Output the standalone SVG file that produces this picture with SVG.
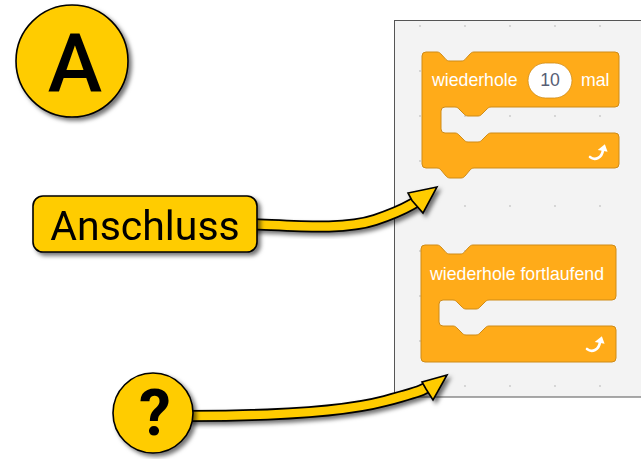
<svg xmlns="http://www.w3.org/2000/svg" width="641" height="459" viewBox="0 0 641 459">
<defs>
<filter id="sh" x="-20%" y="-20%" width="150%" height="150%">
<feDropShadow dx="3" dy="3" stdDeviation="2" flood-color="#000" flood-opacity="0.55"/>
</filter>
<pattern id="dots" x="0" y="0" width="45" height="45" patternUnits="userSpaceOnUse">
<circle cx="15" cy="26" r="0.9" fill="#c8c8c8"/>
</pattern>
</defs>
<style>
.blk{fill:#FFAB19;stroke:#CF8B17;stroke-width:1}
.bt{font-family:"Liberation Sans",Arial,sans-serif;font-size:17.7px;fill:#fff}
.yel{fill:#FFCC00;stroke:#000;stroke-width:1.6}
.shaftO{fill:none;stroke:#000;stroke-width:12;stroke-linecap:butt}
.shaftI{fill:none;stroke:#FFCC00;stroke-width:8.5;stroke-linecap:butt}
.lbl{font-family:Roboto,"Liberation Sans",Arial,sans-serif;fill:#000}
.icon{fill:none;stroke:#fff;stroke-width:2.6;stroke-linecap:round}
</style>
<rect width="641" height="459" fill="#fff"/>
<g id="panel">
<rect x="394.5" y="20.5" width="270" height="376.5" fill="#f3f3f3" stroke="#555" stroke-width="1"/>
<rect x="395" y="21" width="270" height="375.5" fill="url(#dots)"/>
</g>
<g id="block1">
<path class="blk" d="M422,56 Q422,52 426,52 H437 C439,52 440,53 441,54 L446,59.5 C447,60.5 448,61 450,61 H461 C463,61 464,60.5 465,59.5 L470,54 C471,53 472,52 474,52 H615 Q619,52 619,56 V103 Q619,107 615,107 H491 C489,107 488,108 487,109 L482,114 C481,115 480,116 478,116 H468 C466,116 465,115 464,114 L459,109 C458,108 457,107 455,107 H445 Q441,107 441,111 V129 Q441,133 445,133 H455 C457,133 458,134 459,135 L464,140 C465,141 466,142 468,142 H478 C480,142 481,141 482,140 L487,135 C488,134 489,133 491,133 H615 Q619,133 619,137 V164 Q619,168 615,168 H474 C472,168 471,169 470,170 L465,176 C464,177 463,178 461,178 H450 C448,178 447,177 446,176 L441,170 C440,169 439,168 437,168 H426 Q422,168 422,164 Z"/>
<text class="bt" x="432" y="86">wiederhole</text>
<rect x="528" y="63" width="44" height="35" rx="17.5" fill="#fff" stroke="#CF8B17" stroke-width="0.8"/>
<text x="550" y="86" text-anchor="middle" font-family="Liberation Sans, Arial, sans-serif" font-size="17.7" fill="#575E75">10</text>
<text class="bt" x="581" y="86">mal</text>
<path class="icon" d="M590,157 C595,161 602,158 603,150"/>
<path d="M598,151 L608,151 L604,144 Z" fill="#fff" transform="rotate(10 603 149)"/>
</g>
<g id="block2">
<path class="blk" d="M421,249 Q421,245 425,245 H437 C439,245 440,246 441,247 L446,252.5 C447,253.5 448,254 450,254 H460 C462,254 463,253.5 464,252.5 L469,247 C470,246 471,245 473,245 H612 Q616,245 616,249 V296 Q616,300 612,300 H489 C487,300 486,301 485,302 L480,307 C479,308 478,309 476,309 H466 C464,309 463,308 462,307 L457,302 C456,301 455,300 453,300 H443 Q439,300 439,304 V322 Q439,326 443,326 H453 C455,326 456,327 457,328 L462,333 C463,334 464,335 466,335 H476 C478,335 479,334 480,333 L485,328 C486,327 487,326 489,326 H612 Q616,326 616,330 V358 Q616,362 612,362 H425 Q421,362 421,358 Z"/>
<text class="bt" x="430" y="280">wiederhole fortlaufend</text>
<path class="icon" d="M587,349 C592,353 599,350 600,342"/>
<path d="M595,343 L605,343 L601,336 Z" fill="#fff" transform="rotate(10 600 341)"/>
</g>
<g id="connectors">
<g filter="url(#sh)">
<path class="shaftO" d="M250,224 C300,226 345,230 375,220 S408,206 418,201"/>
<path class="shaftI" d="M250,224 C300,226 345,230 375,220 S408,206 418,201"/>
<polygon class="yel" points="437,187 408,193 412,200.5 423,213"/>
</g>
<g filter="url(#sh)">
<path class="shaftO" d="M188,416 C260,416 340,413 385,401 S418,391 428,387"/>
<path class="shaftI" d="M188,416 C260,416 340,413 385,401 S418,391 428,387"/>
<polygon class="yel" points="447,375 422,382 426,389 433,400"/>
</g>
</g>
<g id="nodeA" filter="url(#sh)">
<circle class="yel" cx="72" cy="61" r="56"/>
<text class="lbl" x="75" y="92" text-anchor="middle" font-size="82" font-weight="500">A</text>
</g>
<g id="anschluss" filter="url(#sh)">
<rect class="yel" x="33" y="196" width="224" height="56" rx="10"/>
<text class="lbl" x="145" y="240" text-anchor="middle" font-size="41">Anschluss</text>
</g>
<g id="question" filter="url(#sh)">
<circle class="yel" cx="153" cy="413" r="40"/>
<text class="lbl" x="155" y="435" text-anchor="middle" font-size="64" font-weight="bold" font-family="Liberation Sans, Arial, sans-serif">?</text>
</g>
</svg>
